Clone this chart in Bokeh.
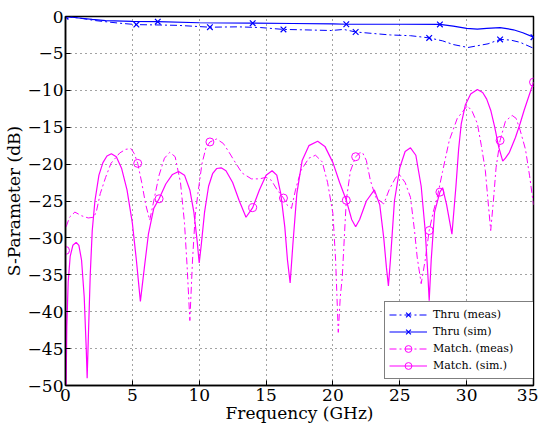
from bokeh.plotting import figure
from bokeh.models import Legend, LegendItem, FixedTicker
from bokeh.embed import file_html
from bokeh.resources import INLINE

# ---------------- data ----------------
thru_meas_f = [0, 1, 2.2, 4, 5.3, 7, 8.4, 10.8, 12.9, 14.6, 16.3, 17.6, 19.9, 20.8, 21.7,
               23, 24.3, 25.8, 27.2, 28.2, 29, 30.1, 31, 31.6, 32.5, 33.3, 34, 35]
thru_meas_db = [0, -0.2, -0.55, -0.9, -1.1, -1.15, -1.2, -1.45, -1.4, -1.5, -1.75, -1.8, -1.9, -1.75, -2.1,
                -2.3, -2.5, -2.6, -2.9, -3.3, -3.8, -4.2, -3.9, -3.7, -3.1, -3.2, -3.5, -4.3]
thru_meas_mk_f = [0, 5.3, 10.8, 16.3, 21.7, 27.2, 32.5]
thru_meas_mk_db = [0, -1.1, -1.45, -1.75, -2.1, -2.9, -3.1]

thru_sim_f = [0, 1, 2, 3, 5, 6.9, 10, 14, 17, 20, 21, 25, 28, 29, 30, 30.8, 31.5, 32.5, 33.5, 34.2, 35]
thru_sim_db = [0, -0.2, -0.4, -0.55, -0.65, -0.7, -0.85, -0.9, -0.95, -1.0, -1.05, -1.05, -1.08,
               -1.3, -1.6, -1.7, -1.6, -1.5, -1.8, -2.2, -2.8]
thru_sim_mk_f = [0, 6.9, 14, 21, 28, 35]
thru_sim_mk_db = [0, -0.7, -0.9, -1.05, -1.08, -2.8]

match_meas_f = [0.05, 0.3, 0.7, 1.2, 1.7, 2.1, 2.3, 2.6, 3.0, 3.4, 4.05, 4.5, 4.9, 5.15, 5.4, 5.7, 6.0, 6.3,
                6.6, 7.0, 7.4, 7.8, 8.2, 8.6, 8.9, 9.1, 9.3, 9.5, 9.7, 9.9, 10.2, 10.5, 10.8, 11.3, 11.8,
                12.2, 12.6, 13.2, 13.9, 14.5, 15.0, 15.4, 15.8, 16.3, 16.6, 16.9, 17.2, 17.6, 18.2, 18.7,
                19.2, 19.6, 20.0, 20.2, 20.4, 20.55, 20.7, 20.85, 21.0, 21.3, 21.7, 22.0, 22.2, 22.5, 22.8,
                23.2, 23.8, 24.2, 24.7, 25.0, 25.4, 25.8, 26.1, 26.3, 26.6, 26.9, 27.2, 27.5, 27.8, 28.2,
                28.7, 29.3, 30.05, 30.4, 30.8, 31.1, 31.4, 31.6, 31.8, 32.0, 32.2, 32.5, 32.9, 33.4, 33.7,
                34.0, 34.4, 34.7, 35.0]
match_meas_db = [-28.5, -27.2, -26.5, -27.0, -27.3, -27.2, -26.5, -24.0, -21.8, -19.9, -18.5, -18.0, -17.9,
                 -18.6, -19.9, -22.5, -25.5, -27.6, -25.0, -21.5, -19.2, -18.4, -19.0, -22.5, -28.0, -34.0,
                 -41.2, -33.0, -27.0, -24.0, -20.0, -17.8, -17.0, -16.6, -17.2, -18.3, -19.5, -21.2, -22.0,
                 -22.0, -21.8, -22.2, -23.4, -24.6, -25.6, -26.0, -23.5, -20.9, -19.2, -18.8, -19.7, -22.5,
                 -26.7, -33.0, -42.8, -38.0, -35.3, -30.0, -24.9, -21.0, -19.0, -18.5, -18.4, -19.5, -22.2,
                 -24.5, -25.4, -23.5, -21.8, -21.5, -22.5, -24.5, -29.0, -32.6, -36.2, -33.0, -29.0, -26.5,
                 -24.5, -21.0, -16.8, -13.8, -12.1, -12.8, -14.5, -17.5, -20.9, -25.0, -29.0, -25.0, -20.5,
                 -16.8, -14.2, -13.4, -13.8, -15.4, -18.0, -21.5, -25.5]
match_meas_mk_f = [5.4, 10.8, 16.3, 21.7, 27.2, 32.5]
match_meas_mk_db = [-19.9, -17.0, -24.6, -19.0, -29.0, -16.8]

match_sim_f = [0.0, 0.03, 0.1, 0.2, 0.35, 0.55, 0.8, 1.0, 1.2, 1.4, 1.55, 1.62, 1.7, 1.85, 2.0, 2.2, 2.5, 2.8,
               3.1, 3.43, 3.8, 4.2, 4.6, 5.0, 5.3, 5.6, 5.9, 6.2, 6.6, 7.0, 7.5, 8.0, 8.46, 8.9, 9.3, 9.6,
               9.85, 10.0, 10.15, 10.4, 10.7, 11.0, 11.3, 11.64, 12.0, 12.5, 13.0, 13.5, 14.0, 14.5, 15.0,
               15.45, 15.8, 16.1, 16.4, 16.6, 16.8, 17.0, 17.3, 17.7, 18.2, 18.86, 19.4, 20.0, 20.5, 21.0,
               21.4, 21.7, 22.0, 22.5, 23.1, 23.5, 23.8, 24.0, 24.15, 24.3, 24.6, 25.0, 25.4, 25.8, 26.2,
               26.6, 26.9, 27.1, 27.2, 27.35, 27.6, 28.0, 28.2, 28.5, 28.9, 29.2, 29.4, 29.6, 29.9, 30.3,
               30.8, 31.2, 31.5, 31.8, 32.1, 32.4, 32.7, 32.9, 33.2, 33.65, 34.0, 34.3, 34.65, 35.0]
match_sim_db = [-31.7, -52.0, -42.0, -36.0, -32.5, -31.0, -30.6, -31.0, -33.0, -38.0, -45.0, -49.0, -44.0,
                -35.0, -29.0, -25.0, -21.5, -19.8, -18.9, -18.6, -19.0, -20.6, -23.5, -28.0, -33.0, -38.6,
                -34.0, -29.5, -26.0, -24.7, -22.7, -21.4, -21.0, -21.5, -23.5, -26.5, -30.5, -33.4, -31.0,
                -26.5, -23.0, -21.3, -20.6, -20.5, -20.9, -22.5, -25.0, -27.2, -25.9, -23.5, -21.5, -20.9,
                -21.5, -24.0, -28.5, -33.0, -36.1, -31.0, -24.0, -19.5, -17.5, -16.9, -17.6, -19.8, -22.5,
                -24.9, -27.5, -28.5, -27.5, -25.0, -23.5, -25.5, -30.0, -34.0, -36.5, -33.0, -25.0, -20.5,
                -18.3, -17.8, -18.8, -23.0, -29.0, -35.0, -38.5, -33.0, -26.5, -23.8, -23.2, -25.5, -29.5,
                -23.0, -18.0, -14.5, -12.0, -10.5, -9.9, -10.3, -11.2, -12.7, -15.0, -17.7, -19.6, -19.2,
                -18.4, -16.4, -14.5, -12.7, -10.8, -8.9]
match_sim_mk_f = [0, 7, 14, 21, 28, 35]
match_sim_mk_db = [-31.7, -24.7, -25.9, -24.9, -23.8, -8.9]

x_ticks = [0, 5, 10, 15, 20, 25, 30, 35]
y_ticks = [0, -5, -10, -15, -20, -25, -30, -35, -40, -45, -50]

labels = ["Thru (meas)", "Thru (sim)", "Match. (meas)", "Match. (sim.)"]

# ---------------- figure ----------------
FONT = "DejaVu Serif"
BLUE = "#0000ff"
MAG = "#ff00ff"
DASHDOT = "7 3 2 3"

p = figure(width=538, height=425, x_range=(0, 35), y_range=(-50, 0),
           output_backend="svg", toolbar_location=None,
           min_border_left=64, min_border_top=16, min_border_right=5, min_border_bottom=40)
p.background_fill_color = "white"
p.border_fill_color = "white"
p.outline_line_color = "black"
p.outline_line_width = 1.5
p.outline_line_alpha = 1.0

p.xaxis.ticker = FixedTicker(ticks=x_ticks)
p.yaxis.ticker = FixedTicker(ticks=y_ticks)
for ax in (p.xaxis[0], p.yaxis[0]):
    ax.axis_line_color = "black"
    ax.axis_line_width = 1.5
    ax.major_tick_in = 5
    ax.major_tick_out = 0
    ax.minor_tick_in = 0
    ax.minor_tick_out = 0
    ax.major_tick_line_color = "black"
    ax.major_label_text_font = FONT
    ax.major_label_text_font_size = "17px"
    ax.major_label_text_color = "black"
    ax.axis_label_text_font = FONT
    ax.axis_label_text_font_size = "17px"
    ax.axis_label_text_font_style = "normal"
    ax.axis_label_text_color = "black"
p.xaxis.axis_label = "Frequency (GHz)"
p.yaxis.axis_label = "S-Parameter (dB)"
p.xaxis.major_label_standoff = 3
p.xaxis.axis_label_standoff = -1
p.yaxis.major_label_standoff = 2
p.yaxis.axis_label_standoff = 1

for g in (p.xgrid[0], p.ygrid[0]):
    g.grid_line_color = "#333333"
    g.grid_line_dash = "1 4"
    g.grid_line_width = 1
    g.grid_line_alpha = 0.9

# ---------------- series ----------------
r1 = p.line(thru_meas_f, thru_meas_db, line_color=BLUE, line_width=1, line_dash=DASHDOT)
m1 = p.scatter(thru_meas_mk_f, thru_meas_mk_db, marker="x", size=8, line_color=BLUE, line_width=1.2)
r2 = p.line(thru_sim_f, thru_sim_db, line_color=BLUE, line_width=1.2)
m2 = p.scatter(thru_sim_mk_f, thru_sim_mk_db, marker="x", size=8, line_color=BLUE, line_width=1.2)
r3 = p.line(match_meas_f, match_meas_db, line_color=MAG, line_width=1, line_dash=DASHDOT)
m3 = p.scatter(match_meas_mk_f, match_meas_mk_db, marker="circle", size=8, line_color=MAG,
               fill_color=None, line_width=1)
r4 = p.line(match_sim_f, match_sim_db, line_color=MAG, line_width=1.2)
m4 = p.scatter(match_sim_mk_f, match_sim_mk_db, marker="circle", size=8, line_color=MAG,
               fill_color=None, line_width=1)

legend = Legend(items=[
    LegendItem(label=labels[0], renderers=[r1, m1]),
    LegendItem(label=labels[1], renderers=[r2, m2]),
    LegendItem(label=labels[2], renderers=[r3, m3]),
    LegendItem(label=labels[3], renderers=[r4, m4]),
])
legend.location = (319, 6)
legend.label_text_font = FONT
legend.label_text_font_size = "11px"
legend.label_text_color = "black"
legend.glyph_width = 38
legend.glyph_height = 17
legend.label_height = 17
legend.label_width = 96
legend.label_standoff = 6
legend.spacing = 0
legend.padding = 4
legend.margin = 0
legend.border_line_color = "black"
legend.border_line_width = 1.5
legend.background_fill_color = "white"
legend.background_fill_alpha = 1.0
p.add_layout(legend, "center")

open("out.html", "w").write(file_html(p, INLINE))
